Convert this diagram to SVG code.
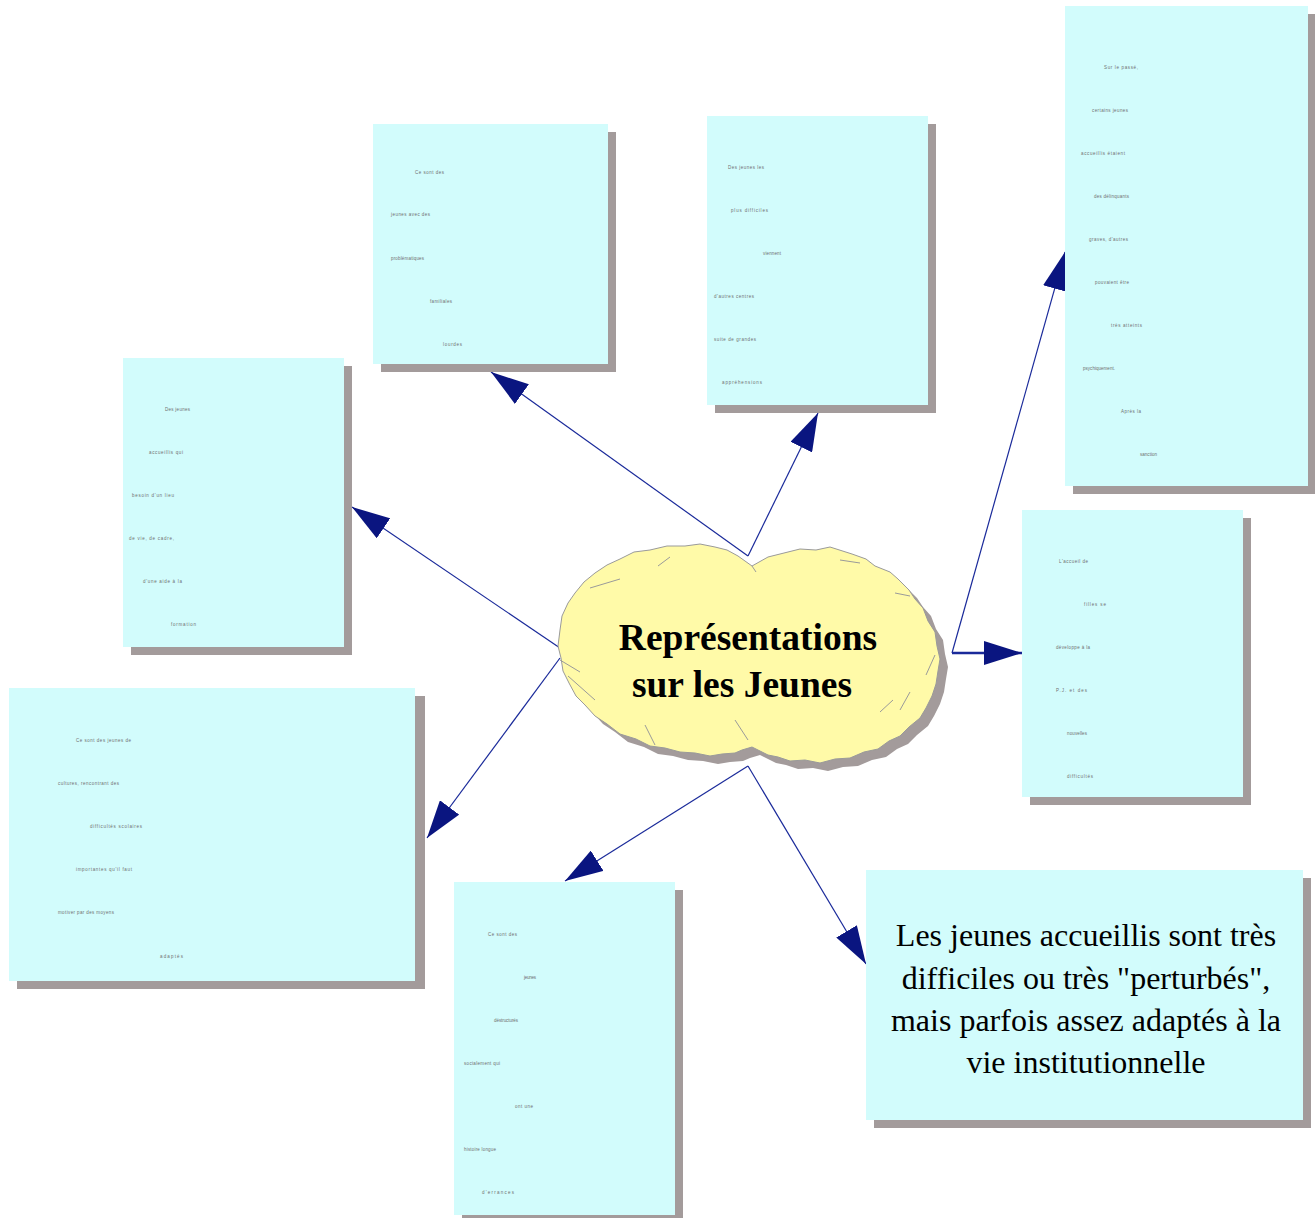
<svg xmlns="http://www.w3.org/2000/svg" width="1315" height="1218" viewBox="0 0 1315 1218">
<defs>
<style>
.box{fill:#D2FCFC}
.sh{fill:#A39B9B}
.t{font-family:"Liberation Sans",Arial,sans-serif;font-size:4.5px;fill:#707070}
.big{font-family:"Liberation Serif","Times New Roman",serif;font-size:32px;fill:#000;text-anchor:middle}
.title{font-family:"Liberation Serif","Times New Roman",serif;font-size:37.5px;font-weight:bold;fill:#000;text-anchor:middle}
.con{stroke:#1a2a9a;stroke-width:1.2;fill:none;marker-end:url(#ah)}
</style>
<marker id="ah" markerUnits="userSpaceOnUse" viewBox="0 0 38 24" refX="38" refY="12" markerWidth="38" markerHeight="24" orient="auto">
<path d="M0,0 L38,12 L0,24 z" fill="#0A1580"/>
</marker>
</defs>
<rect width="1315" height="1218" fill="#fff"/>

<g id="connectors">
<line class="con" x1="748" y1="556" x2="491" y2="372"/>
<line class="con" x1="748" y1="556" x2="818" y2="413"/>
<line class="con" x1="560" y1="648" x2="352" y2="507"/>
<line class="con" x1="560" y1="658" x2="427" y2="838"/>
<line class="con" x1="748" y1="766" x2="565" y2="881"/>
<line class="con" x1="748" y1="766" x2="866" y2="964"/>
<line class="con" x1="952" y1="653" x2="1065" y2="252"/>
<line class="con" x1="952" y1="653" x2="1022" y2="653" style="stroke-width:2.5"/>
</g>

<g id="node-a">
<rect class="sh" x="381" y="132" width="235" height="240"/>
<rect class="box" x="373" y="124" width="235" height="240"/>
<text class="t" x="415" y="174" textLength="29" lengthAdjust="spacing">Ce sont des</text>
<text class="t" x="391" y="216" textLength="39" lengthAdjust="spacing">jeunes avec des</text>
<text class="t" x="391" y="260" textLength="33" lengthAdjust="spacing">problématiques</text>
<text class="t" x="430" y="303" textLength="22" lengthAdjust="spacing">familiales</text>
<text class="t" x="443" y="346" textLength="19" lengthAdjust="spacing">lourdes</text>
</g>

<g id="node-b">
<rect class="sh" x="715" y="124" width="221" height="289"/>
<rect class="box" x="707" y="116" width="221" height="289"/>
<text class="t" x="728" y="169" textLength="36" lengthAdjust="spacing">Des jeunes les</text>
<text class="t" x="731" y="212" textLength="37" lengthAdjust="spacing">plus difficiles</text>
<text class="t" x="763" y="255" textLength="18" lengthAdjust="spacing">viennent</text>
<text class="t" x="714" y="298" textLength="40" lengthAdjust="spacing">d'autres centres</text>
<text class="t" x="714" y="341" textLength="42" lengthAdjust="spacing">suite de grandes</text>
<text class="t" x="722" y="384" textLength="40" lengthAdjust="spacing">appréhensions</text>
</g>

<g id="node-c">
<rect class="sh" x="1073" y="14" width="242" height="480"/>
<rect class="box" x="1065" y="6" width="243" height="480"/>
<text class="t" x="1104" y="69" textLength="34" lengthAdjust="spacing">Sur le passé,</text>
<text class="t" x="1092" y="112" textLength="36" lengthAdjust="spacing">certains jeunes</text>
<text class="t" x="1081" y="155" textLength="44" lengthAdjust="spacing">accueillis étaient</text>
<text class="t" x="1094" y="198" textLength="35" lengthAdjust="spacing">des délinquants</text>
<text class="t" x="1089" y="241" textLength="39" lengthAdjust="spacing">graves, d'autres</text>
<text class="t" x="1095" y="284" textLength="34" lengthAdjust="spacing">pouvaient être</text>
<text class="t" x="1111" y="327" textLength="31" lengthAdjust="spacing">très atteints</text>
<text class="t" x="1083" y="370" textLength="32" lengthAdjust="spacing">psychiquement.</text>
<text class="t" x="1121" y="413" textLength="20" lengthAdjust="spacing">Après la</text>
<text class="t" x="1140" y="456" textLength="17" lengthAdjust="spacing">sanction</text>
</g>

<g id="node-d">
<rect class="sh" x="131" y="366" width="221" height="289"/>
<rect class="box" x="123" y="358" width="221" height="289"/>
<text class="t" x="165" y="411" textLength="25" lengthAdjust="spacing">Des jeunes</text>
<text class="t" x="149" y="454" textLength="34" lengthAdjust="spacing">accueillis qui</text>
<text class="t" x="132" y="497" textLength="42" lengthAdjust="spacing">besoin d'un lieu</text>
<text class="t" x="129" y="540" textLength="45" lengthAdjust="spacing">de vie, de cadre,</text>
<text class="t" x="143" y="583" textLength="39" lengthAdjust="spacing">d'une aide à la</text>
<text class="t" x="171" y="626" textLength="25" lengthAdjust="spacing">formation</text>
</g>

<g id="node-e">
<rect class="sh" x="1030" y="518" width="221" height="287"/>
<rect class="box" x="1022" y="510" width="221" height="287"/>
<text class="t" x="1059" y="563" textLength="29" lengthAdjust="spacing">L'accueil de</text>
<text class="t" x="1084" y="606" textLength="22" lengthAdjust="spacing">filles se</text>
<text class="t" x="1056" y="649" textLength="34" lengthAdjust="spacing">développe à la</text>
<text class="t" x="1056" y="692" textLength="31" lengthAdjust="spacing">P.J. et des</text>
<text class="t" x="1067" y="735" textLength="20" lengthAdjust="spacing">nouvelles</text>
<text class="t" x="1067" y="778" textLength="26" lengthAdjust="spacing">difficultés</text>
</g>

<g id="node-f">
<rect class="sh" x="17" y="696" width="408" height="293"/>
<rect class="box" x="9" y="688" width="406" height="293"/>
<text class="t" x="76" y="742" textLength="55" lengthAdjust="spacing">Ce sont des jeunes de</text>
<text class="t" x="58" y="785" textLength="61" lengthAdjust="spacing">cultures, rencontrant des</text>
<text class="t" x="90" y="828" textLength="52" lengthAdjust="spacing">difficultés scolaires</text>
<text class="t" x="76" y="871" textLength="56" lengthAdjust="spacing">importantes qu'il faut</text>
<text class="t" x="58" y="914" textLength="56" lengthAdjust="spacing">motiver par des moyens</text>
<text class="t" x="160" y="958" textLength="23" lengthAdjust="spacing">adaptés</text>
</g>

<g id="node-g">
<rect class="sh" x="462" y="890" width="221" height="328"/>
<rect class="box" x="454" y="882" width="221" height="333"/>
<text class="t" x="488" y="936" textLength="29" lengthAdjust="spacing">Ce sont des</text>
<text class="t" x="524" y="979" textLength="12" lengthAdjust="spacing">jeunes</text>
<text class="t" x="494" y="1022" textLength="24" lengthAdjust="spacing">déstructurés</text>
<text class="t" x="464" y="1065" textLength="36" lengthAdjust="spacing">socialement qui</text>
<text class="t" x="515" y="1108" textLength="18" lengthAdjust="spacing">ont une</text>
<text class="t" x="464" y="1151" textLength="32" lengthAdjust="spacing">histoire longue</text>
<text class="t" x="482" y="1194" textLength="32" lengthAdjust="spacing">d'errances</text>
</g>

<g id="node-h">
<rect class="sh" x="874" y="878" width="437" height="250"/>
<rect class="box" x="866" y="870" width="437" height="250"/>
<text class="big" x="1086" y="946">Les jeunes accueillis sont très</text>
<text class="big" x="1086" y="989">difficiles ou très "perturbés",</text>
<text class="big" x="1086" y="1031">mais parfois assez adaptés à la</text>
<text class="big" x="1086" y="1073">vie institutionnelle</text>
</g>

<g id="node-center">
<path transform="translate(8,8)" fill="#A39B9B" d="M752,566 L768,557 L784,553 L800,549 L816,550 L830,547 L852,554 L866,559 L875,566 L890,572 L898,579 L909,590 L915,599 L923,608 L928,621 L935,632 L937,646 L940,659 L938,671 L936,684 L932,696 L926,708 L920,718 L909,727 L900,736 L889,741 L878,749 L864,752 L850,758 L835,759 L820,763 L805,760 L790,761 L778,757 L768,755 L752,747 L742,750 L735,753 L722,754 L710,756 L695,753 L680,752 L665,748 L650,746 L636,739 L620,734 L607,724 L595,716 L585,705 L576,696 L569,683 L563,671 L561,658 L558,646 L560,630 L562,616 L568,603 L575,593 L584,582 L595,573 L607,565 L620,559 L634,552 L650,550 L667,546 L685,546 L700,544 L715,547 L727,550 L738,556 Z"/>
<path fill="#FFFAA8" stroke="#9a9a9a" stroke-width="1" d="M752,566 L768,557 L784,553 L800,549 L816,550 L830,547 L852,554 L866,559 L875,566 L890,572 L898,579 L909,590 L915,599 L923,608 L928,621 L935,632 L937,646 L940,659 L938,671 L936,684 L932,696 L926,708 L920,718 L909,727 L900,736 L889,741 L878,749 L864,752 L850,758 L835,759 L820,763 L805,760 L790,761 L778,757 L768,755 L752,747 L742,750 L735,753 L722,754 L710,756 L695,753 L680,752 L665,748 L650,746 L636,739 L620,734 L607,724 L595,716 L585,705 L576,696 L569,683 L563,671 L561,658 L558,646 L560,630 L562,616 L568,603 L575,593 L584,582 L595,573 L607,565 L620,559 L634,552 L650,550 L667,546 L685,546 L700,544 L715,547 L727,550 L738,556 Z"/>
<g stroke="#9a9a9a" stroke-width="1" fill="none">
<path d="M658,566 L670,557"/>
<path d="M590,588 L620,579"/>
<path d="M752,566 L756,572"/>
<path d="M840,560 L860,563"/>
<path d="M895,593 L910,596"/>
<path d="M560,660 L580,672"/>
<path d="M568,676 L595,700"/>
<path d="M935,655 L926,675"/>
<path d="M910,692 L900,710"/>
<path d="M735,720 L748,740"/>
<path d="M645,725 L655,745"/>
<path d="M880,712 L893,700"/>
</g>
<text class="title" x="748" y="650">Représentations</text>
<text class="title" x="742" y="697">sur les Jeunes</text>
</g>
</svg>
